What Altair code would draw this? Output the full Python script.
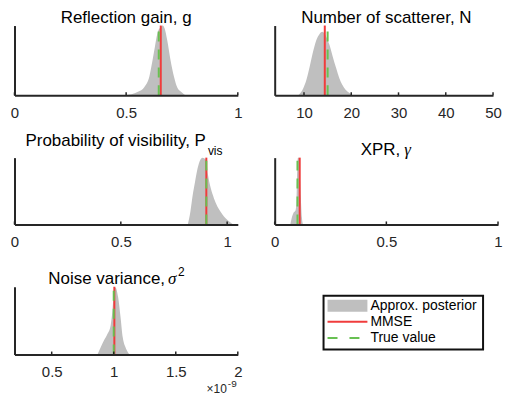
import altair as alt
import pandas as pd

FONT = "Liberation Sans"
GRAY = "#bfbfbf"
RED = "#f03c3c"
GREEN = "#68c052"
AX = "#262626"

# ---- data (densities normalised to the axis top) ----
g_x = [0.494, 0.553, 0.582, 0.604, 0.618, 0.629, 0.640, 0.655, 0.664, 0.672, 0.684, 0.699, 0.714, 0.728, 0.750, 0.765]
g_y = [0.0, 0.05, 0.12, 0.27, 0.50, 0.70, 0.89, 0.98, 1.0, 0.96, 0.79, 0.50, 0.27, 0.12, 0.04, 0.0]
g_mmse, g_true = 0.655, 0.646
g_ticks = [0, 0.5, 1]

n_x = [8.8, 9.85, 10.5, 11.2, 11.9, 12.6, 13.3, 13.9, 14.7, 15.4, 16.1, 16.8, 17.5, 18.1, 18.8, 19.7, 20.2]
n_y = [0.0, 0.10, 0.22, 0.41, 0.62, 0.79, 0.88, 0.91, 0.84, 0.72, 0.55, 0.39, 0.24, 0.15, 0.08, 0.03, 0.0]
n_mmse, n_true = 14.4, 15.0
n_ticks = [10, 20, 30, 40, 50]

p_x = [0.815, 0.827, 0.838, 0.849, 0.861, 0.874, 0.884, 0.900, 0.910, 0.923, 0.938, 0.954, 0.969, 0.985, 1.000, 1.019, 1.028]
p_y = [0.0, 0.19, 0.44, 0.64, 0.84, 0.97, 1.0, 0.97, 0.74, 0.54, 0.39, 0.27, 0.19, 0.12, 0.07, 0.02, 0.0]
p_mmse, p_true = 0.902, 0.902
p_ticks = [0, 0.5, 1]

x_x = [0.070, 0.078, 0.085, 0.092, 0.097, 0.100, 0.104, 0.108, 0.112, 0.117, 0.122, 0.127]
x_y = [0.0, 0.12, 0.18, 0.20, 0.30, 0.70, 1.0, 1.0, 0.80, 0.40, 0.10, 0.0]
x_mmse, x_true = 0.112, 0.102
x_ticks = [0, 0.5, 1]

s_x = [0.869, 0.896, 0.922, 0.948, 0.975, 0.987, 1.000, 1.014, 1.036, 1.055, 1.073, 1.094, 1.115, 1.126]  # x 1e-9
s_y = [0.0, 0.11, 0.21, 0.30, 0.43, 0.60, 0.89, 0.99, 0.84, 0.55, 0.25, 0.11, 0.03, 0.0]
s_mmse, s_true = 1.005, 1.0
s_ticks = [0.5, 1, 1.5, 2]

titles = ["Reflection gain, g", "Number of scatterer, N", "Probability of visibility, P", "XPR,", "Noise variance,"]
title_parts = {"sub_vis": "vis", "gamma": "γ", "sigma": "σ", "sup2": "2", "exp_base": "×10", "exp_pow": "-9"}
legend_labels = ["Approx. posterior", "MMSE", "True value"]

W = 224  # panel width


def txt(s, x, y, size=17, align="center", font=FONT, style="normal", baseline="alphabetic", color="#000"):
    return alt.Chart(pd.DataFrame({"s": [s]})).mark_text(
        align=align, baseline=baseline, font=font, fontSize=size, fontStyle=style, color=color
    ).encode(text="s:N", x=alt.value(x), y=alt.value(y))


def panel(xs, ys, mmse, true, domain, ticks, w, h, extra):
    xscale = alt.Scale(domain=domain, nice=False, zero=False)
    yscale = alt.Scale(domain=[0, 1], nice=False, zero=False)
    xaxis = alt.Axis(values=ticks, format="~r", title=None, grid=False, ticks=False, tickSize=0,
                     domainColor=AX, domainWidth=2, labelFont=FONT, labelFontSize=15, labelColor=AX,
                     labelFlush=False, labelOverlap=False, labelBaseline="alphabetic", labelPadding=22,
                     zindex=1)
    yaxis = alt.Axis(title=None, grid=False, ticks=False, labels=False, domainColor=AX, domainWidth=2, zindex=1)
    X = lambda f: alt.X(f, scale=xscale, axis=xaxis)
    area = alt.Chart(pd.DataFrame({"x": xs, "y": ys})).mark_area(
        color=GRAY, interpolate="monotone"
    ).encode(x=X("x:Q"), y=alt.Y("y:Q", scale=yscale, axis=yaxis))
    red = alt.Chart(pd.DataFrame({"x": [mmse]})).mark_rule(color=RED, strokeWidth=2).encode(
        x=X("x:Q"), y=alt.datum(0), y2=alt.datum(1))
    green = alt.Chart(pd.DataFrame({"x": [true]})).mark_rule(
        color=GREEN, strokeWidth=2, strokeDash=[10, 8]).encode(
        x=X("x:Q"), y=alt.datum(0), y2=alt.datum(1))
    tk = alt.Chart(pd.DataFrame({"x": ticks})).mark_rule(color=AX, strokeWidth=1.5).encode(
        x=X("x:Q"), y=alt.value(h), y2=alt.value(h - 3))
    return alt.layer(area, red, green, tk, *extra).properties(width=w, height=h)


p1 = panel(g_x, g_y, g_mmse, g_true, [0, 1], g_ticks, W, 70,
           [txt(titles[0], W / 2, -3)])
p2 = panel(n_x, n_y, n_mmse, n_true, [3.8, 50], n_ticks, W - 5, 70,
           [txt(titles[1], W / 2, -3)])
p3 = panel(p_x, p_y, p_mmse, p_true, [0, 1.05], p_ticks, W, 67,
           [txt(titles[2], 192, -12, align="right"),
            txt(title_parts["sub_vis"], 194, -3, size=12, align="left")])
p4 = panel(x_x, x_y, x_mmse, x_true, [0, 1], x_ticks, W, 67,
           [txt(titles[3], 126, -3, align="right"),
            txt(title_parts["gamma"], 130, -3, align="left", font="Liberation Serif", style="italic")])
p5 = panel(s_x, s_y, s_mmse, s_true, [0.2, 2], s_ticks, W, 68,
           [txt(titles[4], 151, -3, align="right"),
            txt(title_parts["sigma"], 154, -3, align="left", font="Liberation Serif", style="italic"),
            txt(title_parts["sup2"], 164, -11, size=12, align="left"),
            txt(title_parts["exp_base"], 213, 107, size=12, align="right", color=AX),
            txt(title_parts["exp_pow"], 214, 101, size=10, align="left", color=AX)])

# legend cell (drawn in the empty grid slot)
one = pd.DataFrame({"k": [0]})
box = alt.Chart(one).mark_rect(fill="white", stroke="#111", strokeWidth=2).encode(
    x=alt.value(49), x2=alt.value(209), y=alt.value(9), y2=alt.value(63))
sw_area = alt.Chart(one).mark_rect(fill=GRAY).encode(
    x=alt.value(53), x2=alt.value(93), y=alt.value(13), y2=alt.value(25))
sw_red = alt.Chart(one).mark_rule(color=RED, strokeWidth=2).encode(
    x=alt.value(53), x2=alt.value(93), y=alt.value(35))
sw_green = alt.Chart(one).mark_rule(color=GREEN, strokeWidth=2, strokeDash=[10, 12]).encode(
    x=alt.value(53), x2=alt.value(93), y=alt.value(51.5))
leg = alt.layer(
    box, sw_area, sw_red, sw_green,
    txt(legend_labels[0], 96, 19.5, size=14, align="left", baseline="middle"),
    txt(legend_labels[1], 96, 35, size=14, align="left", baseline="middle"),
    txt(legend_labels[2], 96, 51.5, size=14, align="left", baseline="middle"),
).properties(width=W, height=68)

chart = alt.concat(
    p1, p2, p3, p4, p5, leg, columns=2,
    spacing={"row": 62.5, "column": 37}, bounds="flush",
).properties(padding={"left": 1.5, "top": 0, "right": 0, "bottom": 0}).configure_view(strokeWidth=0)

chart.save("out.html", embed_options={"renderer": "svg", "actions": False})
